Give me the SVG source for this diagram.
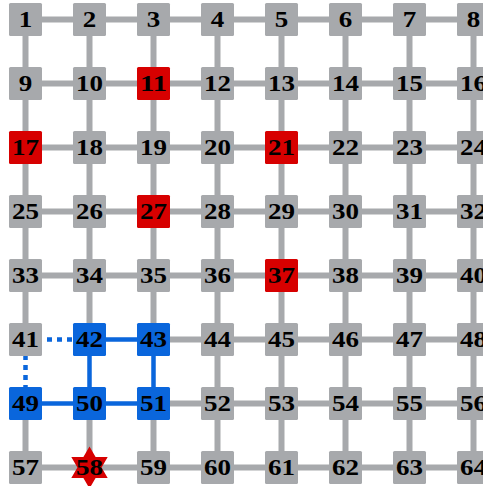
<svg xmlns="http://www.w3.org/2000/svg" width="483" height="486" viewBox="0 0 483 486">
<style>
.e{stroke:#a7a9ac;stroke-width:6;fill:none}
.b{stroke:#0a66dc;stroke-width:4.5;fill:none}
.d{stroke:#0a66dc;stroke-width:4.5;fill:none;stroke-dasharray:5 5}
.g rect{fill:#a7a9ac}
.r rect{fill:#d70000}
.u rect{fill:#0a66dc}
text{font-family:"Liberation Serif","Times New Roman",serif;font-weight:bold;font-size:23px;text-anchor:middle;fill:#000}
</style>
<rect width="483" height="486" fill="#fff"/>
<g id="connectors">
<path class="e" d="M25.5 19.5H473.5M25.5 83.5H473.5M25.5 147.5H473.5M25.5 211.5H473.5M25.5 275.5H473.5M25.5 339.5H41M153.5 339.5H473.5M153.5 403.5H473.5M25.5 467.5H473.5"/>
<path class="e" d="M25.5 19.5V339.5M25.5 403.5V467.5M89.5 19.5V339.5M89.5 403.5V467.5M153.5 19.5V339.5M153.5 403.5V467.5M217.5 19.5V467.5M281.5 19.5V467.5M345.5 19.5V467.5M409.5 19.5V467.5M473.5 19.5V467.5"/>
<path class="b" d="M89.5 339.5H153.5M25.5 403.5H153.5M89.5 339.5V403.5M153.5 339.5V403.5"/>
<path class="d" d="M47 339.5H73M25.5 355V388"/>
</g>
<g id="n1" class="g"><rect x="9" y="3" width="33" height="33" rx="1.5"/><text x="25.5" y="27" textLength="13.5" lengthAdjust="spacingAndGlyphs">1</text></g>
<g id="n2" class="g"><rect x="73" y="3" width="33" height="33" rx="1.5"/><text x="89.5" y="27" textLength="13.5" lengthAdjust="spacingAndGlyphs">2</text></g>
<g id="n3" class="g"><rect x="137" y="3" width="33" height="33" rx="1.5"/><text x="153.5" y="27" textLength="13.5" lengthAdjust="spacingAndGlyphs">3</text></g>
<g id="n4" class="g"><rect x="201" y="3" width="33" height="33" rx="1.5"/><text x="217.5" y="27" textLength="13.5" lengthAdjust="spacingAndGlyphs">4</text></g>
<g id="n5" class="g"><rect x="265" y="3" width="33" height="33" rx="1.5"/><text x="281.5" y="27" textLength="13.5" lengthAdjust="spacingAndGlyphs">5</text></g>
<g id="n6" class="g"><rect x="329" y="3" width="33" height="33" rx="1.5"/><text x="345.5" y="27" textLength="13.5" lengthAdjust="spacingAndGlyphs">6</text></g>
<g id="n7" class="g"><rect x="393" y="3" width="33" height="33" rx="1.5"/><text x="409.5" y="27" textLength="13.5" lengthAdjust="spacingAndGlyphs">7</text></g>
<g id="n8" class="g"><rect x="457" y="3" width="33" height="33" rx="1.5"/><text x="473.5" y="27" textLength="13.5" lengthAdjust="spacingAndGlyphs">8</text></g>
<g id="n9" class="g"><rect x="9" y="67" width="33" height="33" rx="1.5"/><text x="25.5" y="91" textLength="13.5" lengthAdjust="spacingAndGlyphs">9</text></g>
<g id="n10" class="g"><rect x="73" y="67" width="33" height="33" rx="1.5"/><text x="89.5" y="91" textLength="27" lengthAdjust="spacingAndGlyphs">10</text></g>
<g id="n11" class="r"><rect x="137" y="67" width="33" height="33" rx="1.5"/><text x="153.5" y="91" textLength="27" lengthAdjust="spacingAndGlyphs">11</text></g>
<g id="n12" class="g"><rect x="201" y="67" width="33" height="33" rx="1.5"/><text x="217.5" y="91" textLength="27" lengthAdjust="spacingAndGlyphs">12</text></g>
<g id="n13" class="g"><rect x="265" y="67" width="33" height="33" rx="1.5"/><text x="281.5" y="91" textLength="27" lengthAdjust="spacingAndGlyphs">13</text></g>
<g id="n14" class="g"><rect x="329" y="67" width="33" height="33" rx="1.5"/><text x="345.5" y="91" textLength="27" lengthAdjust="spacingAndGlyphs">14</text></g>
<g id="n15" class="g"><rect x="393" y="67" width="33" height="33" rx="1.5"/><text x="409.5" y="91" textLength="27" lengthAdjust="spacingAndGlyphs">15</text></g>
<g id="n16" class="g"><rect x="457" y="67" width="33" height="33" rx="1.5"/><text x="473.5" y="91" textLength="27" lengthAdjust="spacingAndGlyphs">16</text></g>
<g id="n17" class="r"><rect x="9" y="131" width="33" height="33" rx="1.5"/><text x="25.5" y="155" textLength="27" lengthAdjust="spacingAndGlyphs">17</text></g>
<g id="n18" class="g"><rect x="73" y="131" width="33" height="33" rx="1.5"/><text x="89.5" y="155" textLength="27" lengthAdjust="spacingAndGlyphs">18</text></g>
<g id="n19" class="g"><rect x="137" y="131" width="33" height="33" rx="1.5"/><text x="153.5" y="155" textLength="27" lengthAdjust="spacingAndGlyphs">19</text></g>
<g id="n20" class="g"><rect x="201" y="131" width="33" height="33" rx="1.5"/><text x="217.5" y="155" textLength="27" lengthAdjust="spacingAndGlyphs">20</text></g>
<g id="n21" class="r"><rect x="265" y="131" width="33" height="33" rx="1.5"/><text x="281.5" y="155" textLength="27" lengthAdjust="spacingAndGlyphs">21</text></g>
<g id="n22" class="g"><rect x="329" y="131" width="33" height="33" rx="1.5"/><text x="345.5" y="155" textLength="27" lengthAdjust="spacingAndGlyphs">22</text></g>
<g id="n23" class="g"><rect x="393" y="131" width="33" height="33" rx="1.5"/><text x="409.5" y="155" textLength="27" lengthAdjust="spacingAndGlyphs">23</text></g>
<g id="n24" class="g"><rect x="457" y="131" width="33" height="33" rx="1.5"/><text x="473.5" y="155" textLength="27" lengthAdjust="spacingAndGlyphs">24</text></g>
<g id="n25" class="g"><rect x="9" y="195" width="33" height="33" rx="1.5"/><text x="25.5" y="219" textLength="27" lengthAdjust="spacingAndGlyphs">25</text></g>
<g id="n26" class="g"><rect x="73" y="195" width="33" height="33" rx="1.5"/><text x="89.5" y="219" textLength="27" lengthAdjust="spacingAndGlyphs">26</text></g>
<g id="n27" class="r"><rect x="137" y="195" width="33" height="33" rx="1.5"/><text x="153.5" y="219" textLength="27" lengthAdjust="spacingAndGlyphs">27</text></g>
<g id="n28" class="g"><rect x="201" y="195" width="33" height="33" rx="1.5"/><text x="217.5" y="219" textLength="27" lengthAdjust="spacingAndGlyphs">28</text></g>
<g id="n29" class="g"><rect x="265" y="195" width="33" height="33" rx="1.5"/><text x="281.5" y="219" textLength="27" lengthAdjust="spacingAndGlyphs">29</text></g>
<g id="n30" class="g"><rect x="329" y="195" width="33" height="33" rx="1.5"/><text x="345.5" y="219" textLength="27" lengthAdjust="spacingAndGlyphs">30</text></g>
<g id="n31" class="g"><rect x="393" y="195" width="33" height="33" rx="1.5"/><text x="409.5" y="219" textLength="27" lengthAdjust="spacingAndGlyphs">31</text></g>
<g id="n32" class="g"><rect x="457" y="195" width="33" height="33" rx="1.5"/><text x="473.5" y="219" textLength="27" lengthAdjust="spacingAndGlyphs">32</text></g>
<g id="n33" class="g"><rect x="9" y="259" width="33" height="33" rx="1.5"/><text x="25.5" y="283" textLength="27" lengthAdjust="spacingAndGlyphs">33</text></g>
<g id="n34" class="g"><rect x="73" y="259" width="33" height="33" rx="1.5"/><text x="89.5" y="283" textLength="27" lengthAdjust="spacingAndGlyphs">34</text></g>
<g id="n35" class="g"><rect x="137" y="259" width="33" height="33" rx="1.5"/><text x="153.5" y="283" textLength="27" lengthAdjust="spacingAndGlyphs">35</text></g>
<g id="n36" class="g"><rect x="201" y="259" width="33" height="33" rx="1.5"/><text x="217.5" y="283" textLength="27" lengthAdjust="spacingAndGlyphs">36</text></g>
<g id="n37" class="r"><rect x="265" y="259" width="33" height="33" rx="1.5"/><text x="281.5" y="283" textLength="27" lengthAdjust="spacingAndGlyphs">37</text></g>
<g id="n38" class="g"><rect x="329" y="259" width="33" height="33" rx="1.5"/><text x="345.5" y="283" textLength="27" lengthAdjust="spacingAndGlyphs">38</text></g>
<g id="n39" class="g"><rect x="393" y="259" width="33" height="33" rx="1.5"/><text x="409.5" y="283" textLength="27" lengthAdjust="spacingAndGlyphs">39</text></g>
<g id="n40" class="g"><rect x="457" y="259" width="33" height="33" rx="1.5"/><text x="473.5" y="283" textLength="27" lengthAdjust="spacingAndGlyphs">40</text></g>
<g id="n41" class="g"><rect x="9" y="323" width="33" height="33" rx="1.5"/><text x="25.5" y="347" textLength="27" lengthAdjust="spacingAndGlyphs">41</text></g>
<g id="n42" class="u"><rect x="73" y="323" width="33" height="33" rx="1.5"/><text x="89.5" y="347" textLength="27" lengthAdjust="spacingAndGlyphs">42</text></g>
<g id="n43" class="u"><rect x="137" y="323" width="33" height="33" rx="1.5"/><text x="153.5" y="347" textLength="27" lengthAdjust="spacingAndGlyphs">43</text></g>
<g id="n44" class="g"><rect x="201" y="323" width="33" height="33" rx="1.5"/><text x="217.5" y="347" textLength="27" lengthAdjust="spacingAndGlyphs">44</text></g>
<g id="n45" class="g"><rect x="265" y="323" width="33" height="33" rx="1.5"/><text x="281.5" y="347" textLength="27" lengthAdjust="spacingAndGlyphs">45</text></g>
<g id="n46" class="g"><rect x="329" y="323" width="33" height="33" rx="1.5"/><text x="345.5" y="347" textLength="27" lengthAdjust="spacingAndGlyphs">46</text></g>
<g id="n47" class="g"><rect x="393" y="323" width="33" height="33" rx="1.5"/><text x="409.5" y="347" textLength="27" lengthAdjust="spacingAndGlyphs">47</text></g>
<g id="n48" class="g"><rect x="457" y="323" width="33" height="33" rx="1.5"/><text x="473.5" y="347" textLength="27" lengthAdjust="spacingAndGlyphs">48</text></g>
<g id="n49" class="u"><rect x="9" y="387" width="33" height="33" rx="1.5"/><text x="25.5" y="411" textLength="27" lengthAdjust="spacingAndGlyphs">49</text></g>
<g id="n50" class="u"><rect x="73" y="387" width="33" height="33" rx="1.5"/><text x="89.5" y="411" textLength="27" lengthAdjust="spacingAndGlyphs">50</text></g>
<g id="n51" class="u"><rect x="137" y="387" width="33" height="33" rx="1.5"/><text x="153.5" y="411" textLength="27" lengthAdjust="spacingAndGlyphs">51</text></g>
<g id="n52" class="g"><rect x="201" y="387" width="33" height="33" rx="1.5"/><text x="217.5" y="411" textLength="27" lengthAdjust="spacingAndGlyphs">52</text></g>
<g id="n53" class="g"><rect x="265" y="387" width="33" height="33" rx="1.5"/><text x="281.5" y="411" textLength="27" lengthAdjust="spacingAndGlyphs">53</text></g>
<g id="n54" class="g"><rect x="329" y="387" width="33" height="33" rx="1.5"/><text x="345.5" y="411" textLength="27" lengthAdjust="spacingAndGlyphs">54</text></g>
<g id="n55" class="g"><rect x="393" y="387" width="33" height="33" rx="1.5"/><text x="409.5" y="411" textLength="27" lengthAdjust="spacingAndGlyphs">55</text></g>
<g id="n56" class="g"><rect x="457" y="387" width="33" height="33" rx="1.5"/><text x="473.5" y="411" textLength="27" lengthAdjust="spacingAndGlyphs">56</text></g>
<g id="n57" class="g"><rect x="9" y="451" width="33" height="33" rx="1.5"/><text x="25.5" y="475" textLength="27" lengthAdjust="spacingAndGlyphs">57</text></g>
<g id="n58"><polygon fill="#d70000" points="89.5,446.5 95.6,457 107.7,457 101.6,467.5 107.7,478 95.6,478 89.5,488.5 83.4,478 71.3,478 77.4,467.5 71.3,457 83.4,457"/><text x="89.5" y="475" textLength="27" lengthAdjust="spacingAndGlyphs">58</text></g>
<g id="n59" class="g"><rect x="137" y="451" width="33" height="33" rx="1.5"/><text x="153.5" y="475" textLength="27" lengthAdjust="spacingAndGlyphs">59</text></g>
<g id="n60" class="g"><rect x="201" y="451" width="33" height="33" rx="1.5"/><text x="217.5" y="475" textLength="27" lengthAdjust="spacingAndGlyphs">60</text></g>
<g id="n61" class="g"><rect x="265" y="451" width="33" height="33" rx="1.5"/><text x="281.5" y="475" textLength="27" lengthAdjust="spacingAndGlyphs">61</text></g>
<g id="n62" class="g"><rect x="329" y="451" width="33" height="33" rx="1.5"/><text x="345.5" y="475" textLength="27" lengthAdjust="spacingAndGlyphs">62</text></g>
<g id="n63" class="g"><rect x="393" y="451" width="33" height="33" rx="1.5"/><text x="409.5" y="475" textLength="27" lengthAdjust="spacingAndGlyphs">63</text></g>
<g id="n64" class="g"><rect x="457" y="451" width="33" height="33" rx="1.5"/><text x="473.5" y="475" textLength="27" lengthAdjust="spacingAndGlyphs">64</text></g>
</svg>
